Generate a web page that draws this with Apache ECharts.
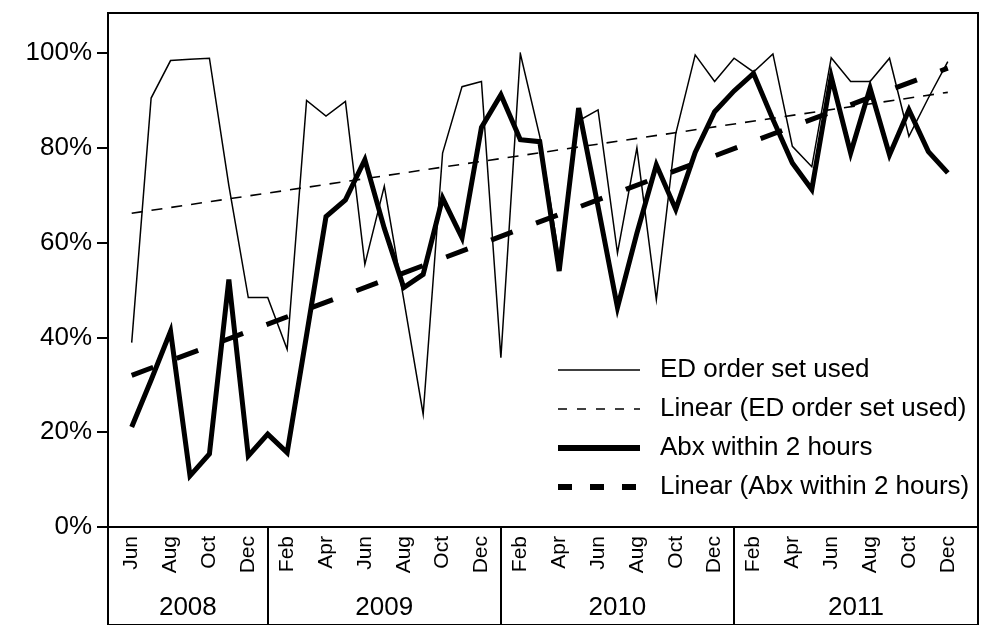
<!DOCTYPE html>
<html><head><meta charset="utf-8">
<script src="https://cdn.jsdelivr.net/npm/echarts@6/dist/echarts.min.js"></script>
<style>html,body{margin:0;padding:0;background:#fff}#c{width:986px;height:625px}</style>
</head><body><div id="c"></div>
<script>
// ---- data ----
const months = ['Jun','Jul','Aug','Sep','Oct','Nov','Dec',
  'Jan','Feb','Mar','Apr','May','Jun','Jul','Aug','Sep','Oct','Nov','Dec',
  'Jan','Feb','Mar','Apr','May','Jun','Jul','Aug','Sep','Oct','Nov','Dec',
  'Jan','Feb','Mar','Apr','May','Jun','Jul','Aug','Sep','Oct','Nov','Dec'];
const years = ['2008','2009','2010','2011'];
const edUsed = [38.9,90.5,98.4,98.7,98.9,72,48.4,48.4,37.5,90,86.7,89.8,55.4,71.9,48,23.8,78.9,92.9,94,35.7,
  99.9,82.4,57,85.7,88,57.8,80,48,83,99.6,94,98.9,96,99.8,80.3,76,99,94,94,98.9,82.4,90.5,98.2];
const abx = [21.1,31,41.3,10.8,15.4,52.2,15,19.6,15.7,40.5,65.5,69,77.5,63,50.5,53.3,69.4,61,84.3,91.2,
  81.7,81.3,54,88.4,67.6,46.3,62,76.4,67,79,87.6,92,95.7,86,76.8,71.2,95,78.9,92.6,78.5,88,79.2,74.7];
const edTrend = [66.2, 91.7];   // linear trend, first and last month
const abxTrend = [32.0, 96.8];
const seriesNames = ['ED order set used','Linear (ED order set used)','Abx within 2 hours','Linear (Abx within 2 hours)'];

// ---- layout ----
const FONT = 'Liberation Sans, Arial, Helvetica, sans-serif';
const xMin = -1.22, xMax = 43.56; // frame extent in month-index units
const last = months.length - 1;
const yearStarts = months.map((m,i)=> m==='Jan'?i:-1).filter(i=>i>=0);
const bounds = [xMin].concat(yearStarts, [xMax]);
const yearCenters = years.map((y,i)=> (bounds[i]+bounds[i+1])/2);
const noSym = {color: 'rgba(0,0,0,0)', borderColor: 'rgba(0,0,0,0)', borderWidth: 0};

const chart = echarts.init(document.getElementById('c'), null, {renderer:'canvas'});
chart.setOption({
  animation: false,
  backgroundColor: '#fff',
  grid: [
    {left: 131.7, right: 38.2, top: 53, bottom: 98},
    {left: 108, right: 8, top: 53, bottom: 98},
    {left: 108, right: 8, top: 13, bottom: -3, show: true, borderColor: '#000', borderWidth: 2, backgroundColor: 'transparent'}
  ],
  xAxis: [
    {type: 'category', gridIndex: 0, data: months, boundaryGap: false,
     axisLine: {show: false}, axisTick: {show: false}, splitLine: {show: false},
     axisLabel: {interval: 1, rotate: 90, margin: 9, color: '#000', fontSize: 21, fontFamily: FONT}},
    {type: 'value', gridIndex: 1, min: xMin, max: xMax, splitLine: {show: false},
     axisLine: {show: true, onZero: false, lineStyle: {color: '#000', width: 2}},
     axisTick: {show: true, customValues: yearStarts, length: 98, lineStyle: {color: '#000', width: 2}},
     axisLabel: {customValues: yearCenters, margin: 68, color: '#000', fontSize: 26, fontFamily: FONT,
       formatter: function(v){ let best=0; yearCenters.forEach((c,i)=>{ if (Math.abs(c-v) < Math.abs(yearCenters[best]-v)) best=i; }); return years[best]; }}},
    {type: 'value', gridIndex: 2, show: false, min: 0, max: 1}
  ],
  yAxis: [
    {type: 'value', gridIndex: 0, min: 0, max: 100, show: false},
    {type: 'value', gridIndex: 1, min: 0, max: 100, interval: 20, splitLine: {show: false},
     axisLine: {show: false, onZero: false},
     axisTick: {show: true, length: 11, lineStyle: {color: '#000', width: 2}},
     axisLabel: {margin: 16, color: '#000', fontSize: 26, fontFamily: FONT, formatter: '{value}%'}},
    {type: 'value', gridIndex: 2, show: false, min: 0, max: 1}
  ],
  legend: {
    orient: 'vertical', left: 550, top: 351, itemWidth: 82, itemHeight: 20, itemGap: 11,
    textStyle: {color: '#000', fontSize: 26, fontFamily: FONT, lineHeight: 28, padding: [0,0,0,15]},
    data: [
      {name: seriesNames[0], itemStyle: noSym, lineStyle: {width: 1.5, type: 'solid', color: '#000'}},
      {name: seriesNames[1], itemStyle: noSym, lineStyle: {width: 1.6, type: [9,10], color: '#000'}},
      {name: seriesNames[2], itemStyle: noSym, lineStyle: {width: 6, type: 'solid', color: '#000'}},
      {name: seriesNames[3], itemStyle: noSym, lineStyle: {width: 6, type: [14,18], color: '#000'}}
    ]
  },
  series: [
    {name: seriesNames[0], type: 'line', xAxisIndex: 0, yAxisIndex: 0, data: edUsed, symbol: 'none',
     lineStyle: {color: '#000', width: 1.5, join: 'miter'}, itemStyle: {color: '#000'}},
    {name: seriesNames[1], type: 'line', xAxisIndex: 0, yAxisIndex: 0, data: [[0, edTrend[0]], [last, edTrend[1]]], symbol: 'none',
     lineStyle: {color: '#000', width: 1.6, type: [11,9]}, itemStyle: {color: '#000'}},
    {name: seriesNames[2], type: 'line', xAxisIndex: 0, yAxisIndex: 0, data: abx, symbol: 'none',
     lineStyle: {color: '#000', width: 5, join: 'miter', miterLimit: 6}, itemStyle: {color: '#000'}},
    {name: seriesNames[3], type: 'line', xAxisIndex: 0, yAxisIndex: 0, data: [[0, abxTrend[0]], [last, abxTrend[1]]], symbol: 'none',
     lineStyle: {color: '#000', width: 5, type: [23,25]}, itemStyle: {color: '#000'}}
  ]
});
</script></body></html>
